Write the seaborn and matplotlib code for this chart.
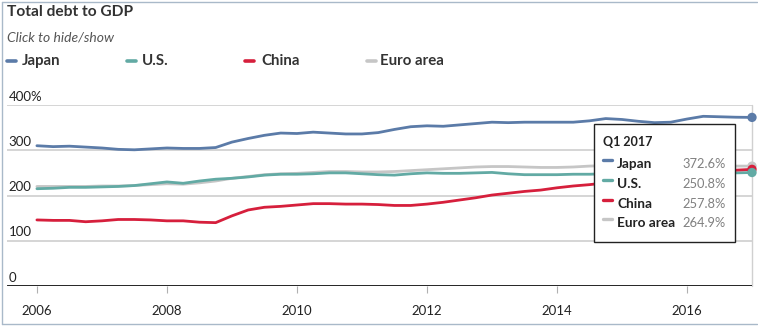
import matplotlib
matplotlib.use("Agg")
import matplotlib.pyplot as plt
import seaborn as sns
import pandas as pd
from matplotlib.patches import Rectangle
from matplotlib.lines import Line2D

# ---------------- data (quarterly, Q1 2006 .. Q1 2017) ----------------
quarters = pd.period_range("2006Q1", "2017Q1", freq="Q")
japan = [310, 308, 309, 307, 305, 302, 301, 303, 305, 304, 304, 306,
         318, 326, 333, 338, 337, 340, 338, 336, 336, 339, 346, 352,
         354, 353, 356, 359, 362, 361, 362, 362, 362, 362, 365, 370,
         368, 364, 361, 362, 369, 375, 374, 373, 372.6]
us = [215, 216, 218, 218, 219, 220, 222, 226, 230, 227, 232, 236,
      238, 241, 245, 247, 247, 248, 250, 250, 248, 246, 245, 248,
      250, 249, 249, 250, 251, 248, 246, 246, 246, 247, 247, 248,
      248, 248, 248, 249, 249, 250, 250, 250, 250.8]
china = [146, 145, 145, 142, 144, 147, 147, 146, 144, 144, 141, 140,
         155, 168, 174, 176, 179, 182, 182, 181, 181, 180, 178, 178,
         181, 185, 190, 195, 201, 205, 209, 212, 217, 221, 224, 228,
         234, 238, 242, 246, 250, 253, 255, 256, 257.8]
euro = [220, 220, 220, 220, 221, 221, 222, 224, 226, 225, 228, 232,
        238, 242, 246, 248, 249, 251, 253, 253, 252, 252, 253, 255,
        257, 259, 261, 263, 264, 264, 263, 262, 262, 263, 265, 266,
        267, 267, 266, 266, 266, 266, 265, 265, 264.9]
series_names = ["Japan", "U.S.", "China", "Euro area"]
colors = {"Japan": "#5b7ba8", "U.S.": "#62aaa4", "China": "#d61f3c", "Euro area": "#c6c6c6"}
y_ticks = [0, 100, 200, 300, 400]
y_labels = ["0", "100", "200", "300", "400%"]
x_ticks = [2006, 2008, 2010, 2012, 2014, 2016]
tooltip_title = "Q1 2017"
tooltip_values = ["372.6%", "250.8%", "257.8%", "264.9%"]

xpos = [q.year + (q.quarter - 1) / 4 for q in quarters]
df = pd.DataFrame({
    "x": xpos * 4,
    "value": japan + us + china + euro,
    "series": sum([[n] * len(xpos) for n in series_names], []),
})

# ---------------- figure ----------------
sns.set_theme(style="white")
plt.rcParams["font.family"] = ["Lato", "DejaVu Sans"]

W, H = 758, 328
fig = plt.figure(figsize=(W / 100, H / 100), dpi=100)


def fx(px):
    return px / W


def fy(py):
    return 1 - py / H


ax = fig.add_axes([fx(7), fy(286), fx(752) - fx(7), fy(105) - fy(286)])

# grid
for v in y_ticks[1:]:
    ax.axhline(v, color="#d2d2d2", lw=1.3, zorder=0)
ax.axhline(0, color="#111111", lw=2.0, zorder=1)
ax.axvline(2017.0, color="#d0d0d0", lw=1.0, zorder=0.5, clip_on=False)

draw_order = ["Euro area", "Japan", "U.S.", "China"]
sns.lineplot(data=df, x="x", y="value", hue="series", hue_order=draw_order,
             palette=colors, linewidth=2.0, legend=False, ax=ax, zorder=3)
# end dots
for n in ["Euro area", "China", "Japan", "U.S."]:
    last = df[df["series"] == n].iloc[-1]
    ax.scatter([last["x"]], [last["value"]], s=45, color=colors[n],
               zorder=5, clip_on=False, edgecolor="none")

ax.set_xlim(2005.54, 2017.0)
ax.set_ylim(0, 400)
for s in ax.spines.values():
    s.set_visible(False)
ax.set_yticks([])
ax.set_xticks(x_ticks)
ax.set_xticklabels([str(t) for t in x_ticks], fontsize=9.5, color="#222222")
ax.tick_params(axis="x", length=5, width=0.8, color="#b0b0b0", pad=9,
               direction="out", bottom=True)
ax.set_xlabel("")
ax.set_ylabel("")

for v, lab in zip(y_ticks, y_labels):
    ax.text(0.002, v + 5, lab, transform=ax.get_yaxis_transform(),
            ha="left", va="bottom", fontsize=9.5, color="#222222", zorder=2)

# ---------------- title / subtitle / legend ----------------
fig.text(fx(7), fy(12), "Total debt to GDP", fontsize=11.2, fontweight="bold",
         color="#333333", ha="left", va="center")
fig.text(fx(7), fy(38), "Click to hide/show", fontsize=10, style="italic",
         color="#555555", ha="left", va="center")
leg_mark = [7, 127, 245, 367]
leg_text = [22, 142, 261, 380]
for n, lm, lt in zip(series_names, leg_mark, leg_text):
    fig.add_artist(Line2D([fx(lm), fx(lm + 9)], [fy(61), fy(61)],
                          color=colors[n], lw=2.6, transform=fig.transFigure))
    fig.text(fx(lt), fy(61), n, fontsize=10.8, fontweight="bold",
             color="#333333", ha="left", va="center")

# ---------------- tooltip ----------------
tx0, tx1, ty0, ty1 = 594, 735, 124, 242
fig.add_artist(Rectangle((fx(tx0), fy(ty1)), fx(tx1) - fx(tx0), fy(ty0) - fy(ty1),
                         transform=fig.transFigure, facecolor="white",
                         edgecolor="#222222", lw=1.0, zorder=10))
fig.text(fx(603), fy(142), tooltip_title, fontsize=9, fontweight="bold",
         color="#222222", ha="left", va="center", zorder=11)
row_y = [164, 184, 204, 223]
for n, val, ry in zip(series_names, tooltip_values, row_y):
    fig.add_artist(Line2D([fx(603), fx(612)], [fy(ry - 4), fy(ry - 4)],
                          color=colors[n], lw=2.4, transform=fig.transFigure,
                          zorder=11))
    fig.text(fx(617), fy(ry), n, fontsize=9.8, fontweight="bold",
             color="#222222", ha="left", va="center", zorder=11)
    fig.text(fx(726), fy(ry), val, fontsize=9.3, color="#808080",
             ha="right", va="center", zorder=11)

# screenshot frame
fig.add_artist(Line2D([fx(1.5), fx(1.5)], [fy(2), fy(324)], color="#a9b9c9",
                      lw=1.0, transform=fig.transFigure))
fig.add_artist(Line2D([fx(1.5), fx(757)], [fy(324), fy(324)], color="#a9b9c9",
                      lw=1.0, transform=fig.transFigure))
fig.add_artist(Line2D([fx(1.5), fx(757)], [fy(1.5), fy(1.5)], color="#a9b9c9",
                      lw=1.0, transform=fig.transFigure))

fig.savefig("out.png", dpi=100, facecolor="white")
